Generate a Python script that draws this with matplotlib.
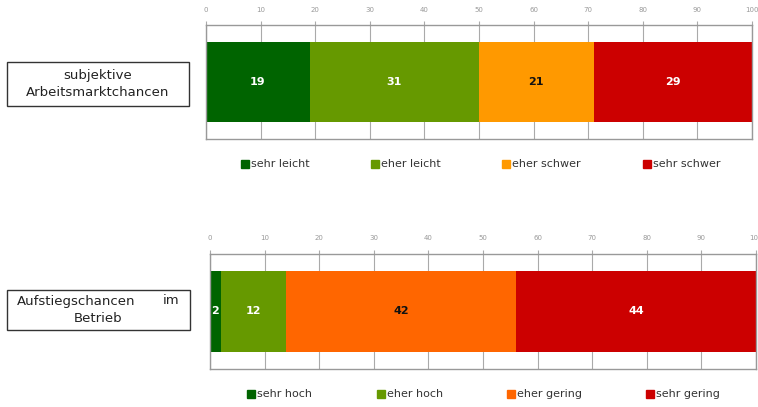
import matplotlib.pyplot as plt
from matplotlib.patches import Rectangle

# survey shares in percent
arbeitsmarkt_labels = ['sehr leicht', 'eher leicht', 'eher schwer', 'sehr schwer']
arbeitsmarkt_values = [19, 31, 21, 29]
arbeitsmarkt_colors = ['#006400', '#669900', '#ff9900', '#cc0000']

aufstieg_labels = ['sehr hoch', 'eher hoch', 'eher gering', 'sehr gering']
aufstieg_values = [2, 12, 42, 44]
aufstieg_colors = ['#006400', '#669900', '#ff6600', '#cc0000']

ticks = list(range(0, 101, 10))

W, H = 758, 407
fig = plt.figure(figsize=(W / 100, H / 100), dpi=100)
fig.patch.set_facecolor('white')


def px_axes(x0, y0, x1, y1):
    return fig.add_axes([x0 / W, 1 - y1 / H, (x1 - x0) / W, (y1 - y0) / H])


def stacked(ax, values, colors, dark_text):
    left = 0
    for v, c in zip(values, colors):
        ax.barh(0, v, left=left, height=0.71, color=c, zorder=2)
        tc = '#111111' if c in dark_text else 'white'
        ax.text(left + v / 2, 0, str(v), ha='center', va='center',
                fontsize=8, fontweight='bold', color=tc, zorder=3)
        left += v
    ax.set_xlim(0, 100)
    ax.set_ylim(-0.5, 0.5)
    ax.set_xticks(ticks)
    ax.set_yticks([])
    ax.xaxis.tick_top()
    ax.tick_params(axis='x', labelsize=5, colors='#aaaaaa', length=3,
                   width=0.8, pad=6)
    for lab in ax.get_xticklabels():
        lab.set_color('#999999')
    ax.grid(axis='x', color='#aaaaaa', linewidth=0.8, zorder=0)
    for s in ax.spines.values():
        s.set_color('#999999')
        s.set_linewidth(1.0)


def legend_row(labels, colors, xs, y):
    for lab, c, x in zip(labels, colors, xs):
        fig.patches.append(Rectangle((x / W, 1 - (y + 4) / H), 8 / W, 8 / H,
                                     color=c, transform=fig.transFigure))
        fig.text((x + 10) / W, 1 - y / H, lab, fontsize=8, color='#333333',
                 va='center', ha='left')


def label_box(x0, y0, x1, y1):
    fig.patches.append(Rectangle((x0 / W, 1 - y1 / H), (x1 - x0) / W,
                                 (y1 - y0) / H, fill=False, edgecolor='#333333',
                                 linewidth=1.0, transform=fig.transFigure))


ax1 = px_axes(206, 25, 752, 139)
stacked(ax1, arbeitsmarkt_values, arbeitsmarkt_colors, ['#ff9900'])
legend_row(arbeitsmarkt_labels, arbeitsmarkt_colors, [241, 371, 502, 643], 164)

ax2 = px_axes(210, 254, 756, 369)
stacked(ax2, aufstieg_values, aufstieg_colors, ['#ff6600'])
legend_row(aufstieg_labels, aufstieg_colors, [247, 377, 507, 646], 394)

label_box(7, 62, 189, 106)
fig.text(98 / W, 1 - 75 / H, 'subjektive', fontsize=9.5, ha='center',
         va='center', color='#222222')
fig.text(98 / W, 1 - 93 / H, 'Arbeitsmarktchancen', fontsize=9.5,
         ha='center', va='center', color='#222222')

label_box(7, 290, 190, 330)
fig.text(17 / W, 1 - 301 / H, 'Aufstiegschancen', fontsize=9.5, ha='left',
         va='center', color='#222222')
fig.text(179 / W, 1 - 301 / H, 'im', fontsize=9.5, ha='right',
         va='center', color='#222222')
fig.text(98 / W, 1 - 318 / H, 'Betrieb', fontsize=9.5, ha='center',
         va='center', color='#222222')

fig.savefig('out.png', dpi=100)
